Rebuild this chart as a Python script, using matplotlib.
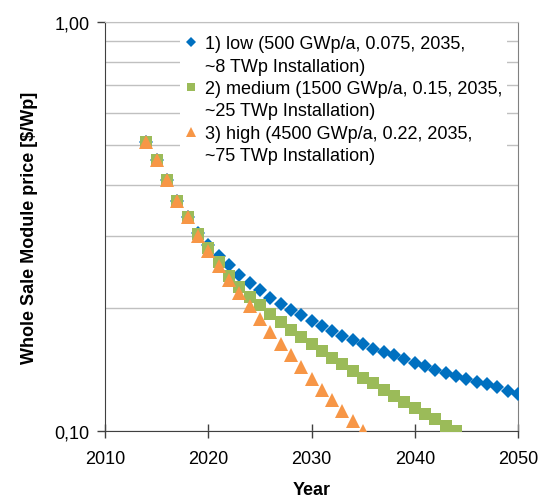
import matplotlib
matplotlib.use("Agg")
import matplotlib.pyplot as plt
from matplotlib.lines import Line2D
from matplotlib.ticker import FixedLocator, FuncFormatter, NullFormatter

years_low = list(range(2014, 2051))
price_low = [0.51, 0.46, 0.41, 0.365, 0.333, 0.305, 0.285, 0.268, 0.254, 0.241,
             0.230, 0.221, 0.212, 0.205, 0.198, 0.192, 0.186, 0.181, 0.176, 0.171,
             0.167, 0.163, 0.159, 0.156, 0.153, 0.150, 0.147, 0.144, 0.141, 0.139,
             0.136, 0.134, 0.132, 0.130, 0.128, 0.125, 0.123]

years_med = list(range(2014, 2045))
price_med = [0.51, 0.46, 0.41, 0.365, 0.333, 0.303, 0.280, 0.259, 0.240, 0.225,
             0.213, 0.203, 0.193, 0.185, 0.177, 0.170, 0.163, 0.157, 0.151, 0.146,
             0.140, 0.135, 0.131, 0.126, 0.122, 0.118, 0.114, 0.110, 0.107, 0.103,
             0.100]

years_high = list(range(2014, 2036))
price_high = [0.51, 0.46, 0.41, 0.365, 0.333, 0.300, 0.275, 0.253, 0.234, 0.217,
              0.202, 0.188, 0.175, 0.163, 0.153, 0.143, 0.134, 0.126, 0.119, 0.112,
              0.106, 0.100]

labels = [("1) low (500 GWp/a, 0.075, 2035,", "~8 TWp Installation)"),
          ("2) medium (1500 GWp/a, 0.15, 2035,", "~25 TWp Installation)"),
          ("3) high (4500 GWp/a, 0.22, 2035,", "~75 TWp Installation)")]

plt.rcParams['font.family'] = ['Liberation Sans', 'DejaVu Sans']
plt.rcParams['font.size'] = 13

fig = plt.figure(figsize=(5.43, 5.02), dpi=100)
ax = fig.add_axes([0.1934, 0.1394, 0.7606, 0.8146])

l1, = ax.plot(years_low, price_low, "D", color="#0070C0", markersize=7, markeredgewidth=0, zorder=3)
l2, = ax.plot(years_med, price_med, "s", color="#9BBB59", markersize=9, markeredgewidth=0, zorder=4)
l3, = ax.plot(years_high, price_high, "^", color="#F79646", markersize=10, markeredgewidth=0, zorder=5)

ax.set_yscale("log")
ax.set_xlim(2010, 2050)
ax.set_ylim(0.1, 1.0)

ax.yaxis.set_major_locator(FixedLocator([0.1, 1.0]))
ax.yaxis.set_major_formatter(FuncFormatter(lambda v, p: f"{v:.2f}".replace(".", ",")))
ax.yaxis.set_minor_locator(FixedLocator([0.2, 0.3, 0.4, 0.5, 0.6, 0.7, 0.8, 0.9]))
ax.yaxis.set_minor_formatter(NullFormatter())
ax.set_xticks([2010, 2020, 2030, 2040, 2050])

ax.grid(True, which="both", axis="y", color="#c0c0c0", linewidth=1)
ax.set_axisbelow(True)
ax.tick_params(axis="x", direction="inout", length=10, width=1, color="#404040", labelsize=13, pad=9)
ax.tick_params(axis="y", which="major", direction="out", length=6, width=1, color="#404040", labelsize=13, pad=5)
ax.tick_params(axis="y", which="minor", length=0)

for s in ["left", "bottom"]:
    ax.spines[s].set_color("#404040")
ax.spines["right"].set_color("#808080")
ax.spines["top"].set_color("#c0c0c0")

ax.set_xlabel("Year", fontweight="bold", fontsize=13, labelpad=10)
ax.set_ylabel("Whole Sale Module price [$/Wp]", fontweight="bold", fontsize=13, labelpad=12)

# first line of each entry carries the marker, second line has none
blank = Line2D([], [], linestyle="none", marker="")
handles = []
texts = []
for h, (a, b) in zip([l1, l2, l3], labels):
    handles += [h, blank]
    texts += [a, b]

leg = ax.legend(handles, texts, loc="upper right", bbox_to_anchor=(0.983, 0.99), frameon=True,
                fontsize=13, handlelength=0.6, handletextpad=0.45, markerscale=0.7,
                labelspacing=0.3, borderaxespad=0.2, borderpad=0.3)
leg.get_frame().set_edgecolor("none")
leg.get_frame().set_facecolor("white")
leg.get_frame().set_alpha(1)

plt.savefig("out.png", dpi=100)
